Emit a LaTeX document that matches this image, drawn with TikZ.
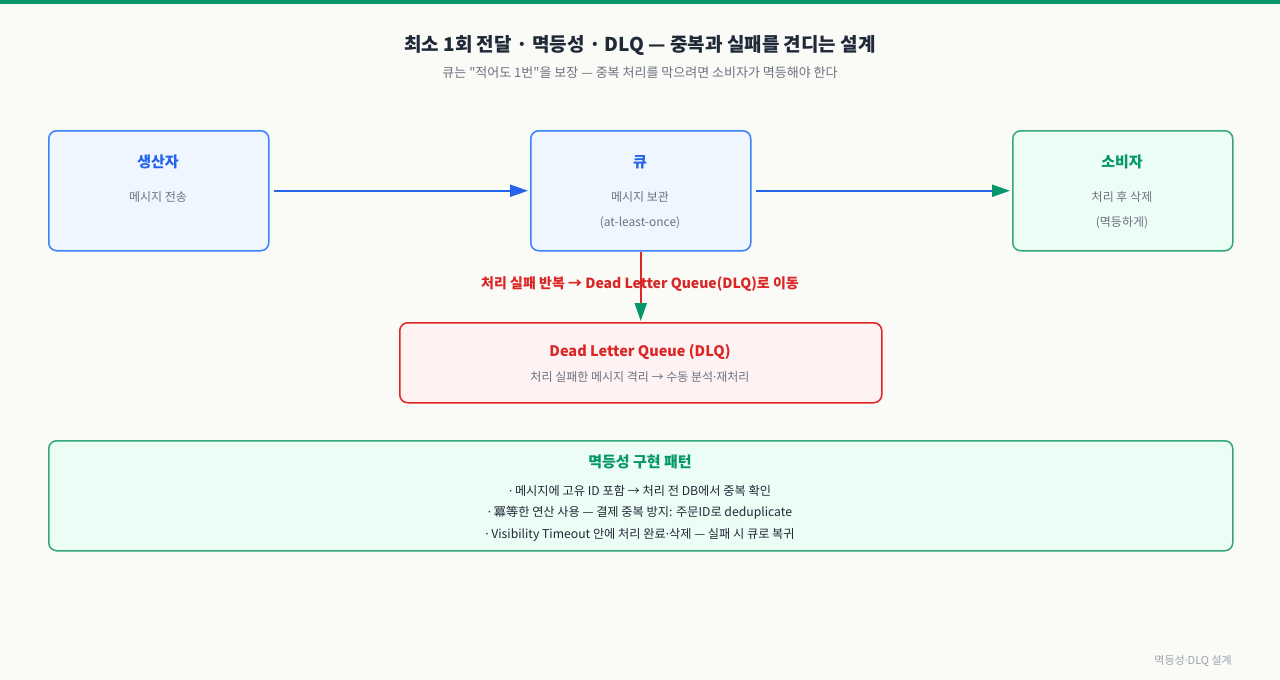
\documentclass[tikz,border=0pt]{standalone}
\usepackage{fontspec}
\setmainfont{Noto Sans CJK KR}[Ligatures=TeXOff]
\newfontfamily\latinfont{Noto Sans}
\newcommand{\md}{{\latinfont ·}}
\usetikzlibrary{arrows.meta}
\definecolor{bg}{HTML}{FAFAF7}
\definecolor{topbar}{HTML}{059669}
\definecolor{bluestroke}{HTML}{3B82F6}
\definecolor{bluefill}{HTML}{EFF6FF}
\definecolor{bluetext}{HTML}{2563EB}
\definecolor{greenstroke}{HTML}{34A77A}
\definecolor{greenfill}{HTML}{ECFDF5}
\definecolor{greentext}{HTML}{059669}
\definecolor{redstroke}{HTML}{DC2626}
\definecolor{redfill}{HTML}{FEF2F2}
\definecolor{redtext}{HTML}{DC2626}
\definecolor{graytext}{HTML}{6B7280}
\definecolor{darktext}{HTML}{1F2937}
\definecolor{lighttext}{HTML}{9CA3AF}
\definecolor{arrowblue}{HTML}{2563EB}
\definecolor{arrowgreen}{HTML}{059669}
\tikzset{
  box/.style={draw, line width=1.5pt, rounded corners=8pt, inner sep=0pt, anchor=north west},
  bluebox/.style={box, draw=bluestroke, fill=bluefill},
  greenbox/.style={box, draw=greenstroke, fill=greenfill},
  redbox/.style={box, draw=redstroke, fill=redfill},
  boxtitle/.style={font=\fontsize{15}{18}\selectfont\bfseries, inner sep=0pt},
  subtext/.style={font=\fontsize{12}{14}\selectfont, text=graytext, inner sep=0pt},
  pattext/.style={font=\fontsize{12.2}{14}\selectfont, text=darktext, inner sep=0pt},
  lnk/.style={line width=2pt},
}
\begin{document}
\begin{tikzpicture}[x=1pt,y=-1pt]
\useasboundingbox (0,0) rectangle (1280,680);
\fill[bg] (0,0) rectangle (1280,680);
\fill[topbar] (0,0) rectangle (1280,4);
\node[font=\fontsize{19}{23}\selectfont\bfseries, text=darktext, inner sep=0pt] (title) at (640,45) {최소 1회 전달 · 멱등성 · DLQ — 중복과 실패를 견디는 설계};
\node[font=\fontsize{13}{16}\selectfont, text=graytext, inner sep=0pt] (subtitle) at (640,73) {큐는 "적어도 1번"을 보장 — 중복 처리를 막으려면 소비자가 멱등해야 한다};
% boxes
\node[bluebox, minimum width=220pt, minimum height=120pt] (prod) at (48,130) {};
\node[bluebox, minimum width=220pt, minimum height=120pt] (queue) at (530,130) {};
\node[greenbox, minimum width=220pt, minimum height=120pt] (cons) at (1012,130) {};
\node[redbox, minimum width=482pt, minimum height=80pt] (dlq) at (399,322) {};
\node[greenbox, minimum width=1184pt, minimum height=110pt] (pat) at (48,440) {};
% texts
\node[boxtitle, text=bluetext] (prodT) at (158,162) {생산자};
\node[subtext] (prodS) at (158,197) {메시지 전송};
\node[boxtitle, text=bluetext] (queueT) at (640,162) {큐};
\node[subtext] (queueS) at (640,197) {메시지 보관};
\node[subtext] (queueS2) at (640,223) {(at-least-once)};
\node[boxtitle, text=greentext] (consT) at (1122,162) {소비자};
\node[subtext] (consS) at (1122,197) {처리 후 삭제};
\node[subtext] (consS2) at (1122,223) {(멱등하게)};
\node[font=\fontsize{14.5}{17}\selectfont\bfseries, text=redtext, inner sep=0pt] (dlqT) at (640,352) {Dead Letter Queue (DLQ)};
\node[subtext] (dlqS) at (640,377) {처리 실패한 메시지 격리 → 수동 분석\md 재처리};
\node[boxtitle, text=greentext] (patT) at (640,462) {멱등성 구현 패턴};
\node[pattext] (p1) at (640,491) {\md{} 메시지에 고유 ID 포함 → 처리 전 DB에서 중복 확인};
\node[pattext] (p2) at (640,513) {\md{} 冪等한 연산 사용 — 결제 중복 방지: 주문ID로 deduplicate};
\node[pattext] (p3) at (640,535) {\md{} Visibility Timeout 안에 처리 완료\md 삭제 — 실패 시 큐로 복귀};
\node[font=\fontsize{11}{13}\selectfont, text=lighttext, inner sep=0pt, anchor=east] (foot) at (1232,661) {멱등성\md DLQ 설계};
% connectors
\draw[lnk, draw=arrowblue, -{Triangle[length=18pt,width=12pt,color=arrowblue]}] ([xshift=4pt]prod.east) -- ([xshift=-2pt]queue.west);
\draw[lnk, draw=arrowblue, -{Triangle[length=18pt,width=12pt,color=arrowgreen]}] ([xshift=4pt]queue.east) -- ([xshift=-2pt]cons.west);
\draw[lnk, draw=redstroke, -{Triangle[length=18pt,width=12pt,color=arrowgreen]}] (queue.south) -- ([yshift=1pt]dlq.north);
\node[font=\fontsize{14}{17}\selectfont\bfseries, text=redtext, inner sep=0pt] (flbl) at (640,284) {처리 실패 반복 → Dead Letter Queue(DLQ)로 이동};
\end{tikzpicture}
\end{document}
